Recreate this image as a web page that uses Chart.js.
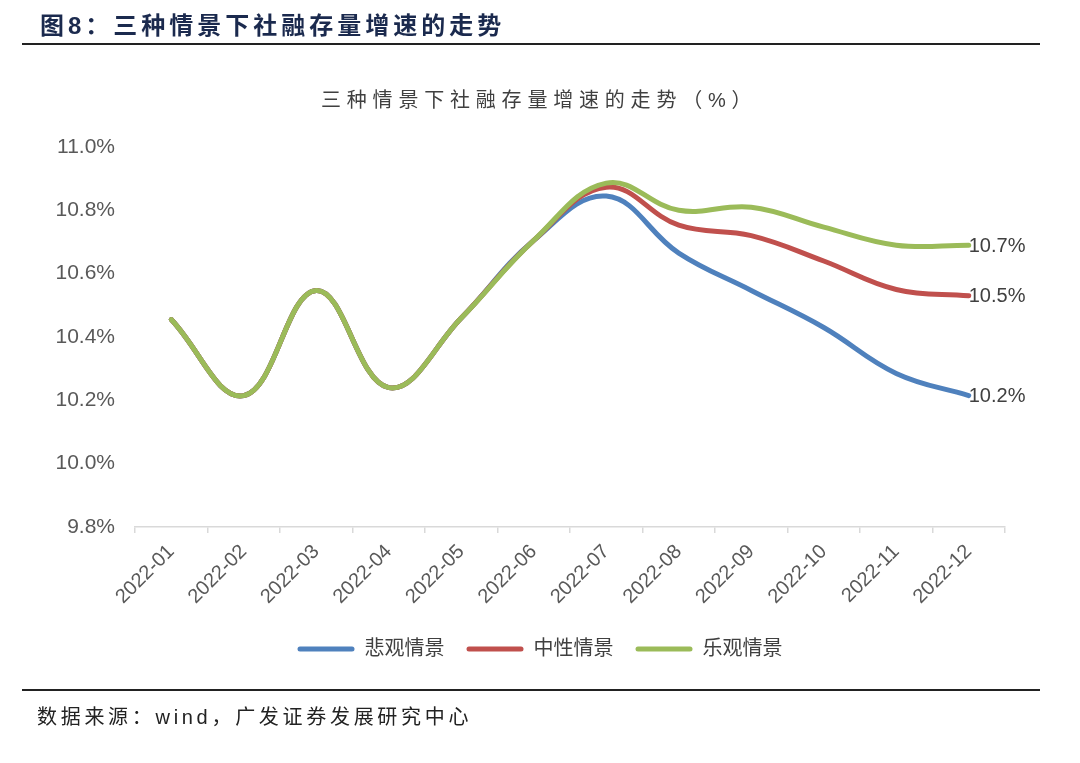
<!DOCTYPE html>
<html>
<head>
<meta charset="utf-8">
<script src="https://cdn.jsdelivr.net/npm/chart.js@4.4.1/dist/chart.umd.min.js"></script>
<style>
  body { margin: 0; background: #fff; }
  #wrap { position: relative; width: 1080px; height: 763px; overflow: hidden; }
  #chart { position: absolute; left: 0; top: 0; }
  .txt { position: absolute; white-space: nowrap; font-family: "Liberation Sans", "Noto Sans CJK SC", sans-serif; }
  #head { left: 40px; top: 6px; font-size: 24px; font-weight: bold; letter-spacing: 4px; color: #1b2a4e; }
  #ctitle { left: 321px; top: 84px; font-size: 20px; letter-spacing: 5.8px; color: #404040; }
  #src { left: 37px; top: 701px; font-size: 20px; letter-spacing: 3.7px; color: #222; }
  .rule { position: absolute; left: 22px; width: 1018px; height: 2px; background: #222; }
</style>
</head>
<body>
<div id="wrap">
  <canvas id="chart" width="1080" height="763"></canvas>
  <div class="txt" id="head">图8：三种情景下社融存量增速的走势</div>
  <div class="rule" style="top:43px"></div>
  <div class="txt" id="ctitle">三种情景下社融存量增速的走势（%）</div>
  <div class="rule" style="top:689px"></div>
  <div class="txt" id="src">数据来源：wind，广发证券发展研究中心</div>
</div>
<script>
//months on the x axis
const months = ['2022-01', '2022-02', '2022-03', '2022-04', '2022-05', '2022-06',
  '2022-07', '2022-08', '2022-09', '2022-10', '2022-11', '2022-12'];
//scenario names
const scenarios = ['悲观情景', '中性情景', '乐观情景'];
//stock growth, %
const pessimistic = [10.455, 10.215, 10.547, 10.24, 10.46, 10.705, 10.845, 10.665, 10.547, 10.43, 10.285, 10.215];
const neutral = [10.455, 10.215, 10.547, 10.24, 10.46, 10.705, 10.873, 10.753, 10.72, 10.64, 10.55, 10.53];
const optimistic = [10.455, 10.215, 10.547, 10.24, 10.46, 10.705, 10.886, 10.80, 10.81, 10.747, 10.69, 10.69];
//y axis range
const yMin = 9.8, yMax = 11.0, yStep = 0.2;

const lineColors = ['#4f81bd', '#c0504d', '#9bbb59'];
const numFont = '"Liberation Sans", Arial, sans-serif';
const cjkFont = '"Liberation Sans", "Noto Sans CJK SC", sans-serif';

//write the last value next to the end of each line
const endLabels = {
  id: 'endLabels',
  afterDatasetsDraw(chart) {
    const ctx = chart.ctx;
    ctx.save();
    ctx.font = '20px ' + numFont;
    ctx.fillStyle = '#404040';
    ctx.textAlign = 'left';
    ctx.textBaseline = 'middle';
    chart.data.datasets.forEach((ds, i) => {
      const meta = chart.getDatasetMeta(i);
      const last = meta.data[meta.data.length - 1];
      const v = ds.data[ds.data.length - 1];
      ctx.fillText(v.toFixed(1) + '%', last.x, last.y + 1);
    });
    ctx.restore();
  }
};

const seriesData = [pessimistic, neutral, optimistic];

new Chart(document.getElementById('chart'), {
  type: 'line',
  plugins: [endLabels],
  data: {
    labels: months,
    datasets: scenarios.map((name, i) => ({
      label: name,
      data: seriesData[i],
      borderColor: lineColors[i],
      backgroundColor: lineColors[i],
      borderWidth: 5,
      pointRadius: 0,
      tension: 0.4,
      borderCapStyle: 'round',
      //green on top, blue at the bottom
      order: 3 - i,
    })),
  },
  options: {
    responsive: false,
    animation: false,
    layout: { padding: { top: 147, left: 40, right: 40, bottom: 94 } },
    plugins: {
      tooltip: { enabled: false },
      title: { display: false },
      legend: {
        position: 'bottom',
        labels: {
          sort: (a, b) => a.datasetIndex - b.datasetIndex,
          boxWidth: 57,
          boxHeight: 5,
          padding: 22,
          color: '#404040',
          font: { family: cjkFont, size: 20 },
          generateLabels: chart => chart.data.datasets.map((ds, i) => ({
            text: ds.label,
            fillStyle: ds.borderColor,
            strokeStyle: ds.borderColor,
            lineWidth: 0,
            borderRadius: 2.5,
            datasetIndex: i,
            fontColor: '#404040',
          })),
          useBorderRadius: true,
          borderRadius: 2.5,
        },
      },
    },
    scales: {
      x: {
        offset: true,
        grid: {
          offset: true,
          drawOnChartArea: false,
          drawTicks: true,
          tickLength: 6,
          color: '#d9d9d9',
          lineWidth: 1.5,
        },
        border: { display: true, color: '#d9d9d9', width: 1.5 },
        ticks: {
          autoSkip: false,
          minRotation: 45,
          maxRotation: 45,
          padding: 7,
          color: '#595959',
          font: { family: numFont, size: 20 },
        },
        afterFit: s => { s.height = 90; },
      },
      y: {
        min: yMin,
        max: yMax,
        grid: { display: false, drawTicks: false },
        border: { display: false },
        ticks: {
          stepSize: yStep,
          padding: 20,
          color: '#595959',
          font: { family: numFont, size: 21 },
          callback: v => v.toFixed(1) + '%',
        },
        afterFit: s => { s.width = 95; },
      },
      //empty right-hand box that keeps the plot clear of the end labels
      yRight: {
        position: 'right',
        min: yMin,
        max: yMax,
        grid: { display: false, drawTicks: false },
        border: { display: false },
        ticks: { display: false },
        afterFit: s => { s.width = 35; },
      },
    },
  },
});
</script>
</body>
</html>
